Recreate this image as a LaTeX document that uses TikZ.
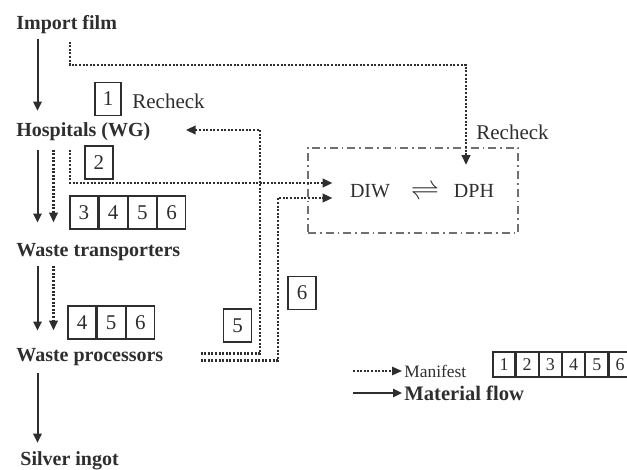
\documentclass[tikz,border=0pt]{standalone}
\usepackage{fontspec}
\setmainfont{Liberation Serif}
\usetikzlibrary{arrows.meta,positioning}
\definecolor{ink}{HTML}{2e2e2e}
\definecolor{frameg}{HTML}{707070}

\begin{document}
\begin{tikzpicture}[
  x=0.5pt, y=-0.5pt,
  font=\fontsize{10}{12}\selectfont, text=ink,
  stage/.style={anchor=base west, font=\fontsize{10}{12}\selectfont\bfseries, inner sep=2pt},
  num/.style={draw=ink, line width=0.6pt, minimum width=14pt, minimum height=16.5pt, inner sep=0pt, font=\fontsize{10.5}{12}\selectfont},
  keynum/.style={num, minimum width=11pt, minimum height=12.5pt, font=\fontsize{9}{10}\selectfont},
  flow/.style={-{Triangle[length=4.5pt,width=4.2pt]}, line width=1pt, draw=ink},
  manifest/.style={-{Triangle[length=5pt,width=4.2pt]}, line width=1.3pt, draw=ink, dash pattern=on 1pt off 0.8pt},
  agency/.style={draw=frameg, line width=0.6pt, dash pattern=on 4pt off 2pt on 0.8pt off 2pt, minimum width=105pt, minimum height=42.5pt},
  lab/.style={anchor=west, inner sep=1pt, font=\fontsize{10.5}{12}\selectfont},
]
\useasboundingbox (0,0) rectangle (627,470);
% stages of the silver chain
\node[stage] (imp) at (12,30) {Import film};
\node[stage] (hosp) at (12,137) {Hospitals (WG)};
\node[stage] (trans) at (12,257) {Waste transporters};
\node[stage] (proc) at (12,362) {Waste processors};
\node[stage] (ingot) at (16,466) {Silver ingot};
% authorities
\node[agency] (agency) at (413,190.5) {};
\node[inner sep=2pt] (diw) at (370,191) {DIW};
\node[inner sep=2pt, font=\fontsize{14}{16}\selectfont] (eq) at (425,192) {$\rightleftharpoons$};
\node[inner sep=2pt] (dph) at (474,191) {DPH};
\node[lab] (recheckB) at (474,132) {Recheck};
% manifest copies
\node[num, minimum width=13pt] (m1) at (108,99) {1};
\node[lab] (recheckA) at (130,101) {Recheck};
\node[num] (m2) at (99,162.5) {2};
\node[num] (t3) at (84,212.5) {3};
\node[num, right=0pt of t3] (t4) {4};
\node[num, right=0pt of t4] (t5) {5};
\node[num, right=0pt of t5] (t6) {6};
\node[num] (p4) at (82,322.5) {4};
\node[num, right=0pt of p4] (p5) {5};
\node[num, right=0pt of p5] (p6) {6};
\node[num] (m5) at (237.5,325.5) {5};
\node[num] (m6) at (302,293) {6};
% material flow
\draw[flow, shorten >=4pt] ([xshift=12.75pt]imp.south west) -- ([xshift=12.75pt]hosp.north west);
\draw[flow, shorten <=2pt, shorten >=8.5pt] ([xshift=12.75pt]hosp.south west) -- ([xshift=12.75pt]trans.north west);
\draw[flow, shorten >=7pt] ([xshift=12.75pt]trans.south west) -- ([xshift=12.75pt]proc.north west);
\draw[flow, shorten <=1pt, shorten >=2.5pt] ([xshift=12.75pt]proc.south west) -- ([xshift=12.75pt]proc.south west |- ingot.north);
% manifest flow
\coordinate (bend) at (466,65);
\coordinate (riser5) at (260,130);
\coordinate (riser6) at (278,198);
\draw[manifest, shorten <=1.5pt, shorten >=7.5pt] ([xshift=29pt]imp.south west) |- (bend) -- (bend |- dph.north);
\draw[manifest, shorten <=2pt, shorten >=8.5pt] ([xshift=20.75pt]hosp.south west) -- ([xshift=20.75pt]trans.north west);
\draw[manifest, shorten >=7pt] ([xshift=20.75pt]trans.south west) -- ([xshift=20.75pt]proc.north west);
\draw[manifest, shorten <=2pt, shorten >=6.5pt] ([xshift=29pt]hosp.south west) |- ([yshift=4pt]diw.west);
\draw[manifest, shorten <=16.5pt, shorten >=15.5pt] ([yshift=2pt]proc.east) -| (riser5) -- (riser5 -| hosp.east);
\draw[manifest, shorten <=16.5pt, shorten >=6.5pt] ([yshift=-1.5pt]proc.east) -| (riser6) -- (riser6 -| diw.west);
% legend
\coordinate (keyman) at (353,371);
\coordinate (keymat) at (353,393);
\node[anchor=west, inner sep=1pt, font=\fontsize{8.7}{10}\selectfont] (manlab) at (402,371) {Manifest};
\node[anchor=west, inner sep=1pt, font=\fontsize{10.3}{12}\selectfont\bfseries] (matlab) at (402,393) {Material flow};
\draw[manifest, line width=0.8pt] (keyman) -- (manlab.west);
\draw[flow, line width=0.9pt] (keymat) -- (matlab.west);
\node[keynum] (k1) at (504,364.5) {1};
\node[keynum, right=0pt of k1] (k2) {2};
\node[keynum, right=0pt of k2] (k3) {3};
\node[keynum, right=0pt of k3] (k4) {4};
\node[keynum, right=0pt of k4] (k5) {5};
\node[keynum, right=0pt of k5] (k6) {6};
\end{tikzpicture}
\end{document}
